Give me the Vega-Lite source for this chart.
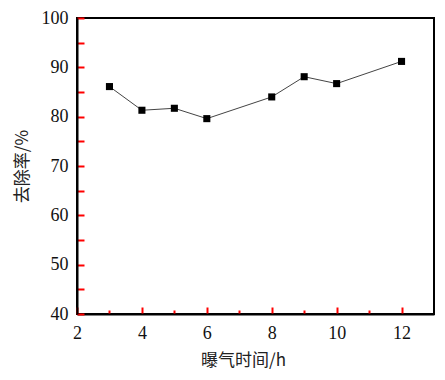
{
  "$schema": "https://vega.github.io/schema/vega-lite/v6.json",
  "width": 357,
  "height": 296,
  "padding": {"left": 77, "top": 18, "right": 11, "bottom": 66},
  "autosize": {"type": "none"},
  "background": "white",
  "config": {
    "view": {"stroke": "black", "strokeWidth": 2}
  },
  "data": {"values": [
    {"t": 3, "r": 86.1},
    {"t": 4, "r": 81.3},
    {"t": 5, "r": 81.7},
    {"t": 6, "r": 79.6},
    {"t": 8, "r": 84.0},
    {"t": 9, "r": 88.1},
    {"t": 10, "r": 86.7},
    {"t": 12, "r": 91.2}
  ]},
  "mark": {"type": "line", "color": "#444", "strokeWidth": 1, "point": {"shape": "square", "filled": true, "color": "black", "size": 50, "opacity": 1}},
  "encoding": {
    "x": {"field": "t", "type": "quantitative", "scale": {"domain": [2, 13], "nice": false, "zero": false},
      "axis": {"grid": false, "domainColor": "black", "domainWidth": 2, "ticks": true, "tickColor": "red", "tickWidth": 2, "tickSize": {"condition": {"test": "datum.value % 2 === 1", "value": -4}, "value": -7}, "labelFont": "Liberation Serif", "labelFontSize": 18, "labelColor": "#111", "labelFlush": false, "titleFont": "Noto Sans CJK SC", "titleFontSize": 17, "titleFontWeight": "normal", "titleColor": "#222",
        "values": [2, 3, 4, 5, 6, 7, 8, 9, 10, 11, 12], "labelExpr": "datum.value % 2 === 0 ? datum.label : ''", "labelPadding": 17, "title": "曝气时间/h", "titlePadding": 10, "titleX": 166}},
    "y": {"field": "r", "type": "quantitative", "scale": {"domain": [40, 100], "nice": false, "zero": false},
      "axis": {"grid": false, "domainColor": "black", "domainWidth": 2, "ticks": true, "tickColor": "red", "tickWidth": 2, "tickSize": -7, "labelFont": "Liberation Serif", "labelFontSize": 18, "labelColor": "#111", "labelFlush": false, "titleFont": "Noto Sans CJK SC", "titleFontSize": 17, "titleFontWeight": "normal", "titleColor": "#222",
        "values": [40, 45, 50, 55, 60, 65, 70, 75, 80, 85, 90, 95, 100], "labelExpr": "datum.value % 10 === 0 ? datum.label : ''", "labelPadding": 16, "title": "去除率/%", "titlePadding": 10}}
  }
}
